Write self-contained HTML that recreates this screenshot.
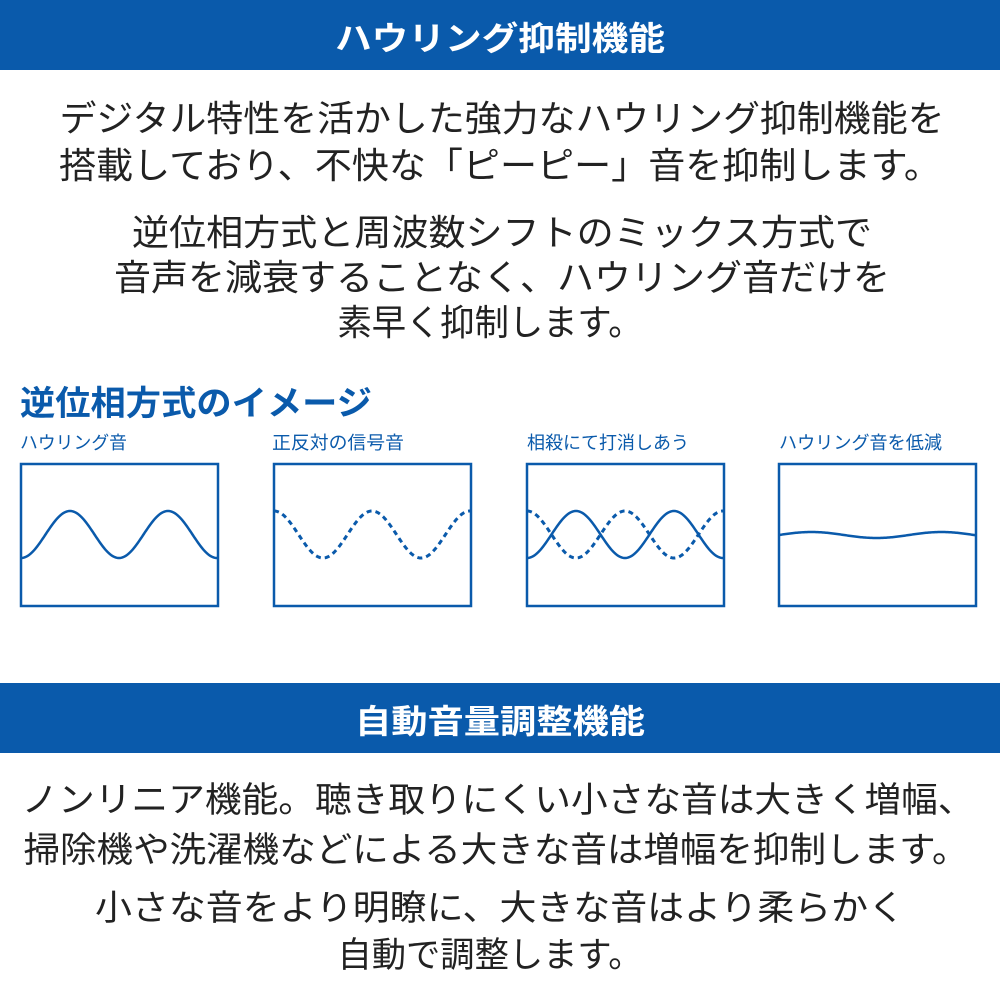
<!DOCTYPE html>
<html><head><meta charset="utf-8"><style>
html,body{margin:0;padding:0;background:#fff;width:1000px;height:1000px;overflow:hidden}
svg text{font-family:"Liberation Sans","Noto Sans CJK JP",sans-serif}
</style></head><body>
<svg id="s" width="1000" height="1000" viewBox="0 0 1000 1000" xmlns="http://www.w3.org/2000/svg">
<rect x="0" y="0" width="1000" height="70" fill="#0a5aab"/>
<text x="500" y="50" text-anchor="middle" fill="#fff" font-size="33" font-weight="bold" textLength="330" lengthAdjust="spacingAndGlyphs">ハウリング抑制機能</text>
<g fill="#222" font-size="36" text-anchor="middle">
<text x="502" y="131" textLength="885" lengthAdjust="spacingAndGlyphs">デジタル特性を活かした強力なハウリング抑制機能を</text>
<text x="500" y="178" textLength="882" lengthAdjust="spacingAndGlyphs">搭載しており、不快な「ピーピー」音を抑制します。</text>
<text x="502" y="245" textLength="740" lengthAdjust="spacingAndGlyphs">逆位相方式と周波数シフトのミックス方式で</text>
<text x="502" y="290" textLength="776" lengthAdjust="spacingAndGlyphs">音声を減衰することなく、ハウリング音だけを</text>
<text x="490" y="335" textLength="305" lengthAdjust="spacingAndGlyphs">素早く抑制します。</text>
</g>
<text x="20" y="415" fill="#0a5aab" font-size="34" font-weight="bold" textLength="352" lengthAdjust="spacingAndGlyphs">逆位相方式のイメージ</text>
<g fill="#0a5aab" font-size="18">
<text x="20" y="449" textLength="107" lengthAdjust="spacingAndGlyphs">ハウリング音</text>
<text x="272" y="449" textLength="132" lengthAdjust="spacingAndGlyphs">正反対の信号音</text>
<text x="527" y="449" textLength="162" lengthAdjust="spacingAndGlyphs">相殺にて打消しあう</text>
<text x="779" y="449" textLength="163" lengthAdjust="spacingAndGlyphs">ハウリング音を低減</text>
</g>
<g fill="none" stroke="#0a5aab" stroke-width="2.5">
<rect x="21" y="464" width="197" height="142"/>
<rect x="274" y="464" width="197" height="142"/>
<rect x="527" y="464" width="197" height="142"/>
<rect x="779" y="464" width="197" height="142"/>
</g>
<g id="waves" fill="none" stroke="#0a5aab" stroke-width="2.5"></g>
<rect x="0" y="683" width="1000" height="70" fill="#0a5aab"/>
<text x="500" y="733" text-anchor="middle" fill="#fff" font-size="33" font-weight="bold" textLength="290" lengthAdjust="spacingAndGlyphs">自動音量調整機能</text>
<g fill="#222" font-size="35" text-anchor="middle">
<text x="498" y="812" textLength="953" lengthAdjust="spacingAndGlyphs">ノンリニア機能。聴き取りにくい小さな音は大きく増幅、</text>
<text x="496" y="862" textLength="945" lengthAdjust="spacingAndGlyphs">掃除機や洗濯機などによる大きな音は増幅を抑制します。</text>
<text x="500" y="920" textLength="810" lengthAdjust="spacingAndGlyphs">小さな音をより明瞭に、大きな音はより柔らかく</text>
<text x="490" y="967" textLength="305" lengthAdjust="spacingAndGlyphs">自動で調整します。</text>
</g>
</svg>
<script>
var g=document.getElementById('waves');
function wave(x0,x1,phase,amp,cy,dash,per){
 var d='';per=per||98;
 for(var x=x0;x<=x1;x+=1){var y=cy+phase*amp*Math.cos(2*Math.PI*(x-x0)/per);d+=(x==x0?'M':'L')+x+' '+y.toFixed(2)+' ';}
 var p=document.createElementNS('http://www.w3.org/2000/svg','path');p.setAttribute('d',d);
 if(dash){p.setAttribute('stroke-dasharray','5 4');p.setAttribute('stroke-width','3');}
 g.appendChild(p);
}
wave(21,218,1,23.5,534.5,false);
wave(274,471,-1,23.5,534.5,true);
wave(527,724,1,23.5,534.5,false);
wave(527,724,-1,23.5,534.5,true);
var d='';for(var x=779;x<=976;x++){var y=535-3*Math.sin(2*Math.PI*(x-779)/130);d+=(x==779?'M':'L')+x+' '+y.toFixed(2)+' ';}
var p=document.createElementNS('http://www.w3.org/2000/svg','path');p.setAttribute('d',d);g.appendChild(p);
</script>
</body></html>
